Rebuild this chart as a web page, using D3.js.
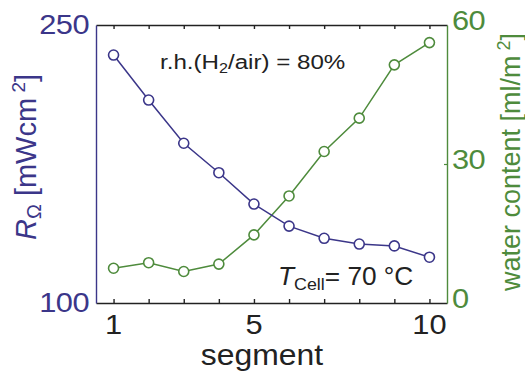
<!DOCTYPE html>
<html>
<head>
<meta charset="utf-8">
<script src="https://cdn.jsdelivr.net/npm/d3@7"></script>
<style>
    body { margin: 0; background: #fff; }
    text { font-family: "Liberation Sans", Arial, Helvetica, sans-serif; }
</style>
</head>
<body>
<div id="chart"></div>
<script>
var svgWidth = 525;
var svgHeight = 376;

var margin = { top: 25, right: 78, bottom: 73, left: 96 };
var width = svgWidth - margin.left - margin.right;
var height = svgHeight - margin.top - margin.bottom;

var blue = "#3b3689";
var green = "#4e8b3c";

// data
var segments = [1, 2, 3, 4, 5, 6, 7, 8, 9, 10];
var resistance = [233.8, 209.5, 186.2, 170.3, 153.4, 141.5, 134.9, 131.8, 130.8, 124.7];
var water = [7.5, 8.7, 6.8, 8.4, 14.7, 23.1, 32.7, 39.9, 51.4, 56.2];
var xTickLabels = [1, 5, 10];
var leftTicks = [100, 250];
var rightTicks = [0, 30, 60];

var svg = d3.select("#chart")
    .append("svg")
    .attr("width", svgWidth)
    .attr("height", svgHeight);

var g = svg.append("g")
    .attr("transform", "translate(" + margin.left + "," + margin.top + ")");

var xScale = d3.scaleLinear().domain([0.5, 10.5]).range([0, width]);
var yLeft = d3.scaleLinear().domain([100, 250]).range([height, 0]);
var yRight = d3.scaleLinear().domain([0, 60]).range([height, 0]);

// bottom + top axes, ticks pointing inward
var xBottom = d3.axisBottom(xScale).tickValues(segments).tickSize(-4).tickSizeOuter(0).tickFormat("");
var xTop = d3.axisTop(xScale).tickValues(segments).tickSize(-4).tickSizeOuter(0).tickFormat("");

g.append("g").attr("class", "xAxis")
    .attr("transform", "translate(0," + height + ")")
    .call(xBottom);
g.append("g").attr("class", "xAxisTop")
    .call(xTop);
g.selectAll(".xAxis path, .xAxisTop path, .xAxis line, .xAxisTop line")
    .attr("stroke", "#222").attr("stroke-width", 1.4);

// left axis (blue) and right axis (green)
g.append("g").attr("class", "yAxis")
    .call(d3.axisLeft(yLeft).tickValues([]).tickSizeOuter(0))
    .select("path").attr("stroke", blue).attr("stroke-width", 1.4);

var rAxis = g.append("g").attr("class", "yAxisRight")
    .attr("transform", "translate(" + width + ",0)")
    .call(d3.axisRight(yRight).tickValues([30]).tickSize(-3).tickSizeOuter(0).tickFormat(""));
rAxis.select("path").attr("stroke", green).attr("stroke-width", 1.4);
rAxis.selectAll("line").attr("stroke", green).attr("stroke-width", 1.2);

// tick labels (the original font is a bit wide, so stretch a little)
g.selectAll(".xLab").data(xTickLabels).enter()
    .append("text")
    .attr("transform", function (d) {
        return "translate(" + xScale(d) + "," + (height + 31) + ") scale(1.1,1)";
    })
    .attr("text-anchor", "middle")
    .attr("font-size", 28)
    .attr("fill", "#222")
    .text(function (d) { return d; });

g.selectAll(".lLab").data(leftTicks).enter()
    .append("text")
    .attr("transform", function (d) {
        return "translate(-7," + (yLeft(d) + 9) + ") scale(1.1,1)";
    })
    .attr("text-anchor", "end")
    .attr("font-size", 28)
    .attr("letter-spacing", -0.5)
    .attr("fill", blue)
    .text(function (d) { return d; });

g.selectAll(".rLab").data(rightTicks).enter()
    .append("text")
    .attr("transform", function (d) {
        return "translate(" + (width + 5) + "," + (yRight(d) + 5) + ") scale(1.1,1)";
    })
    .attr("font-size", 28)
    .attr("letter-spacing", -0.5)
    .attr("fill", green)
    .text(function (d) { return d; });

// lines + markers
var lineR = d3.line()
    .x(function (d, i) { return xScale(segments[i]); })
    .y(function (d) { return yLeft(d); });
var lineW = d3.line()
    .x(function (d, i) { return xScale(segments[i]); })
    .y(function (d) { return yRight(d); });

g.append("path").datum(water)
    .attr("d", lineW).attr("fill", "none")
    .attr("stroke", green).attr("stroke-width", 1.5);
g.append("path").datum(resistance)
    .attr("d", lineR).attr("fill", "none")
    .attr("stroke", blue).attr("stroke-width", 1.5);

g.selectAll(".wDot").data(water).enter()
    .append("circle")
    .attr("cx", function (d, i) { return xScale(segments[i]); })
    .attr("cy", function (d) { return yRight(d); })
    .attr("r", 5)
    .attr("fill", "#fff")
    .attr("stroke", green)
    .attr("stroke-width", 1.6);

g.selectAll(".rDot").data(resistance).enter()
    .append("circle")
    .attr("cx", function (d, i) { return xScale(segments[i]); })
    .attr("cy", function (d) { return yLeft(d); })
    .attr("r", 5)
    .attr("fill", "#fff")
    .attr("stroke", blue)
    .attr("stroke-width", 1.6);

// x axis title
svg.append("text")
    .attr("transform", "translate(262,365) scale(1.1,1)")
    .attr("text-anchor", "middle")
    .attr("font-size", 29)
    .attr("fill", "#222")
    .text("segment");

// left axis title
var lt = svg.append("text")
    .attr("transform", "translate(36,157) rotate(-90)")
    .attr("text-anchor", "middle")
    .attr("font-size", 29)
    .attr("fill", blue);
lt.append("tspan").attr("font-style", "italic").text("R");
lt.append("tspan").attr("font-size", 20).attr("dy", 5).text("Ω");
lt.append("tspan").attr("dy", -5).text(" [mWcm");
lt.append("tspan").attr("font-size", 19).attr("dy", -11).text(" 2");
lt.append("tspan").attr("dy", 11).text("]");

// right axis title
var rt = svg.append("text")
    .attr("transform", "translate(520,162) rotate(-90)")
    .attr("text-anchor", "middle")
    .attr("font-size", 27)
    .attr("fill", green);
rt.append("tspan").text("water content [ml/m");
rt.append("tspan").attr("font-size", 18).attr("dy", -10).text(" 2");
rt.append("tspan").attr("dy", 10).text("]");

// annotations
var rh = svg.append("text")
    .attr("transform", "translate(160,69) scale(1.15,1)")
    .attr("font-size", 21)
    .attr("fill", "#222");
rh.append("tspan").text("r.h.(H");
rh.append("tspan").attr("font-size", 14).attr("dy", 4).text("2");
rh.append("tspan").attr("dy", -4).text("/air) = 80%");

var tc = svg.append("text")
    .attr("transform", "translate(278,285) scale(1.05,1)")
    .attr("font-size", 25)
    .attr("fill", "#222");
tc.append("tspan").attr("font-style", "italic").text("T");
tc.append("tspan").attr("font-size", 17).attr("dy", 5).text("Cell");
tc.append("tspan").attr("dy", -5).text("= 70 °C");
</script>
</body>
</html>
